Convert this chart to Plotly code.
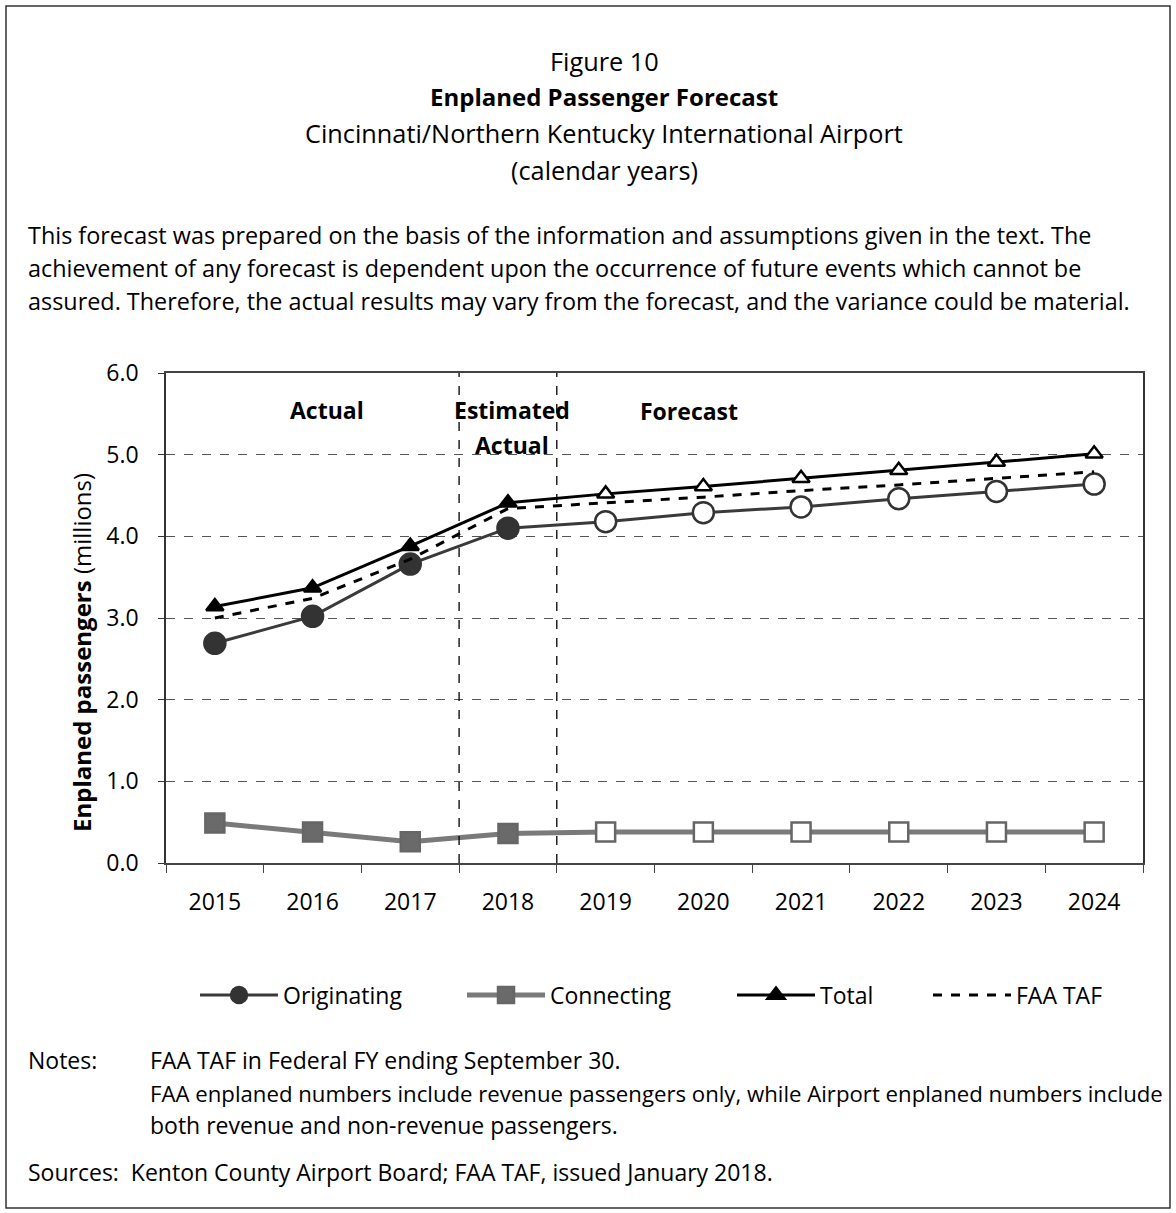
import plotly.graph_objects as go

years = ["2015", "2016", "2017", "2018", "2019", "2020", "2021", "2022", "2023", "2024"]
originating = [2.69, 3.02, 3.66, 4.10, 4.18, 4.29, 4.36, 4.46, 4.55, 4.64]
connecting = [0.49, 0.38, 0.26, 0.36, 0.38, 0.38, 0.38, 0.38, 0.38, 0.38]
total = [3.14, 3.37, 3.88, 4.41, 4.52, 4.61, 4.71, 4.81, 4.91, 5.01]
faa_taf = [3.00, 3.24, 3.72, 4.34, 4.41, 4.48, 4.56, 4.63, 4.71, 4.79]
n_actual = 4  # 2015-2018 filled markers, forecast years hollow
y_ticks = [0, 1, 2, 3, 4, 5, 6]

FONT = "Open Sans, Noto Sans, sans-serif"
W, H = 1176, 1213
L, R, T, B = 166, 1143, 373, 863

def px(x):
    return (x - L) / (R - L)

def py(y):
    return (B - y) / (B - T)

fig = go.Figure()

orig_fill = ["#333333"] * n_actual + ["white"] * (len(years) - n_actual)
conn_fill = ["#6a6a6a"] * n_actual + ["white"] * (len(years) - n_actual)
tot_fill = ["black"] * n_actual + ["white"] * (len(years) - n_actual)

fig.add_trace(go.Scatter(x=years, y=originating, name="Originating", mode="lines+markers", legend="legend",
                         line=dict(color="#3a3a3a", width=3),
                         marker=dict(symbol="circle", size=21, color=orig_fill,
                                     line=dict(color="#333333", width=2.5))))
fig.add_trace(go.Scatter(x=years, y=connecting, name="Connecting", mode="lines+markers", legend="legend2",
                         line=dict(color="#7a7a7a", width=5),
                         marker=dict(symbol="square", size=19, color=conn_fill,
                                     line=dict(color="#666666", width=2.5))))
fig.add_trace(go.Scatter(x=years, y=total, name="Total", mode="lines+markers", legend="legend3",
                         line=dict(color="black", width=3),
                         marker=dict(symbol="triangle-up", size=15, color=tot_fill,
                                     line=dict(color="black", width=2.5))))
fig.add_trace(go.Scatter(x=years, y=faa_taf, name="FAA TAF", mode="lines", legend="legend4",
                         line=dict(color="black", width=3, dash="dash")))

# period separators between 2017/2018 and 2018/2019
for yr in ["2018", "2019"]:
    xi = years.index(yr) - 0.5
    fig.add_shape(type="line", xref="x", yref="paper", x0=xi, x1=xi, y0=0, y1=1,
                  line=dict(color="black", width=1.3, dash="dash"))

# frame around whole figure
fig.add_shape(type="rect", xref="paper", yref="paper", x0=px(6), x1=px(1170), y0=py(1208), y1=py(6),
              line=dict(color="#333", width=1.5))

ann = []
def text(x, y, s, size=21, anchor="center", bold=False):
    if bold:
        s = "<b>" + s + "</b>"
    ann.append(dict(x=px(x), y=py(y), xref="paper", yref="paper", text=s, showarrow=False,
                    xanchor=anchor, yanchor="middle", font=dict(family=FONT, size=size, color="black")))

PS = 23.4
TS = 25.3
text(604, 61, "Figure 10", TS)
text(604, 96, "Enplaned Passenger Forecast", 24, bold=True)
text(604, 133, "Cincinnati/Northern Kentucky International Airport", TS)
text(604, 170, "(calendar years)", TS)
text(26, 235, "This forecast was prepared on the basis of the information and assumptions given in the text. The", PS, "left")
text(26, 268, "achievement of any forecast is dependent upon the occurrence of future events which cannot be", PS, "left")
text(26, 301, "assured. Therefore, the actual results may vary from the forecast, and the variance could be material.", PS, "left")
text(327, 410, "Actual", 23, bold=True)
text(512, 410, "Estimated", 23, bold=True)
text(512, 445, "Actual", 23, bold=True)
text(689, 411, "Forecast", 23, bold=True)
text(26, 1060, "Notes:", 23, "left")
text(148, 1060, "FAA TAF in Federal FY ending September 30.", 23, "left")
text(148, 1093, "FAA enplaned numbers include revenue passengers only, while Airport enplaned numbers include", 22.2, "left")
text(148, 1125, "both revenue and non-revenue passengers.", 23, "left")
text(26, 1172, "Sources:  Kenton County Airport Board; FAA TAF, issued January 2018.", 23, "left")
ann.append(dict(x=px(81), y=py(653), xref="paper", yref="paper", textangle=-90, showarrow=False,
                text="<b>Enplaned passengers</b> (millions)", xanchor="center", yanchor="middle",
                font=dict(family=FONT, size=24, color="black")))

def leg(x_left):
    return dict(orientation="h", x=px(x_left), y=py(995), xanchor="left", yanchor="middle",
                font=dict(family=FONT, size=23), itemwidth=78, bgcolor="rgba(0,0,0,0)",
                borderwidth=0)

fig.update_layout(
    width=W, height=H, margin=dict(l=L, r=W - R, t=T, b=H - B),
    paper_bgcolor="white", plot_bgcolor="white",
    font=dict(family=FONT, size=23, color="black"),
    showlegend=True,
    legend=leg(195), legend2=leg(462), legend3=leg(732), legend4=leg(928),
    annotations=ann,
    xaxis=dict(type="category", tickson="boundaries", ticks="outside", ticklen=8, tickcolor="#444",
               showline=True, linecolor="#444", linewidth=1.5, mirror=True, showgrid=False,
               tickfont=dict(family=FONT, size=23), range=[-0.5, len(years) - 0.5],
               ticklabelstandoff=18),
    yaxis=dict(range=[0, 6], tickvals=y_ticks, tickformat=".1f", ticks="outside", ticklen=6,
               tickcolor="#333", showline=True, linecolor="#333", linewidth=1.5, mirror=True,
               showgrid=True, gridcolor="#555", griddash="dash", gridwidth=1,
               tickfont=dict(family=FONT, size=23), zeroline=False, ticklabelstandoff=15),
)

fig.write_html("out.html")
